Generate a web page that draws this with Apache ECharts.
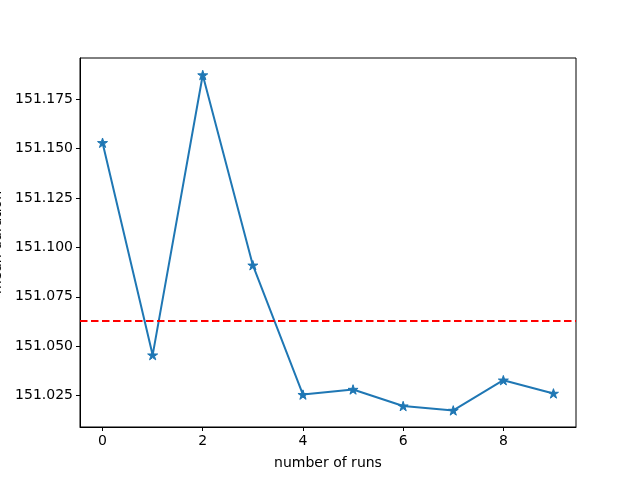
<!DOCTYPE html>
<html>
<head>
<meta charset="utf-8">
<script src="https://cdn.jsdelivr.net/npm/echarts@6/dist/echarts.min.js"></script>
<style>html,body{margin:0;padding:0;background:#fff}#c{width:640px;height:480px}</style>
</head>
<body>
<div id="c"></div>
<script>
const runs = [0, 1, 2, 3, 4, 5, 6, 7, 8, 9];
const meanDurations = [151.153, 151.0455, 151.1873, 151.091, 151.0255, 151.0281, 151.0197, 151.0175, 151.0328, 151.0261];
const overallMean = 151.0628;
const xRange = [-0.45, 9.45];
const xTicks = [0, 2, 4, 6, 8];
const yTicks = [151.025, 151.05, 151.075, 151.1, 151.125, 151.15, 151.175];

const star = 'path://M0,-10 L2.245,-3.09 L9.51,-3.09 L3.633,1.18 L5.878,8.09 L0,3.82 L-5.878,8.09 L-3.633,1.18 L-9.51,-3.09 L-2.245,-3.09 Z';
const font = 'DejaVu Sans';
const chart = echarts.init(document.getElementById('c'), null, {renderer: 'canvas'});
chart.setOption({
  animation: false,
  backgroundColor: '#fff',
  grid: {left: 80, right: 64, top: 58, bottom: 53, containLabel: false, outerBoundsMode: 'none',
    show: true, borderColor: '#000', borderWidth: 1, backgroundColor: 'transparent'},
  xAxis: {
    type: 'value', min: xRange[0], max: xRange[1],
    name: 'number of runs', nameLocation: 'middle', nameGap: 29,
    nameTextStyle: {fontFamily: font, fontSize: 14, color: '#000'},
    axisLine: {show: true, onZero: false, lineStyle: {color: '#000', width: 1}},
    axisTick: {show: true, inside: false, customValues: xTicks, length: 4, lineStyle: {color: '#000'}},
    axisLabel: {customValues: xTicks, fontFamily: font, fontSize: 14, color: '#000', margin: 7,
      formatter: v => String(v)},
    splitLine: {show: false}
  },
  yAxis: {
    type: 'value', min: 151.0091, max: 151.1959,
    name: 'mean duration', nameLocation: 'middle', nameGap: 74,
    nameTextStyle: {fontFamily: font, fontSize: 14, color: '#000'},
    axisLine: {show: true, onZero: false, lineStyle: {color: '#000', width: 1}},
    axisTick: {show: true, inside: false, customValues: yTicks, length: 4, lineStyle: {color: '#000'}},
    axisLabel: {customValues: yTicks, fontFamily: font, fontSize: 14, color: '#000', margin: 7,
      formatter: v => v.toFixed(3)},
    splitLine: {show: false}
  },
  series: [
    {
      type: 'line',
      data: runs.map((r, i) => [r, meanDurations[i]]),
      symbol: star, symbolSize: 10, symbolKeepAspect: true, showSymbol: true,
      itemStyle: {color: '#1f77b4', borderColor: '#1f77b4', borderWidth: 1},
      lineStyle: {color: '#1f77b4', width: 2},
      z: 3
    },
    {
      type: 'line',
      data: [[xRange[0], overallMean], [xRange[1], overallMean]],
      symbol: 'none', silent: true,
      lineStyle: {color: '#ff0000', type: [7.5, 3.5], width: 2},
      z: 4
    }
  ]
});
</script>
</body>
</html>
